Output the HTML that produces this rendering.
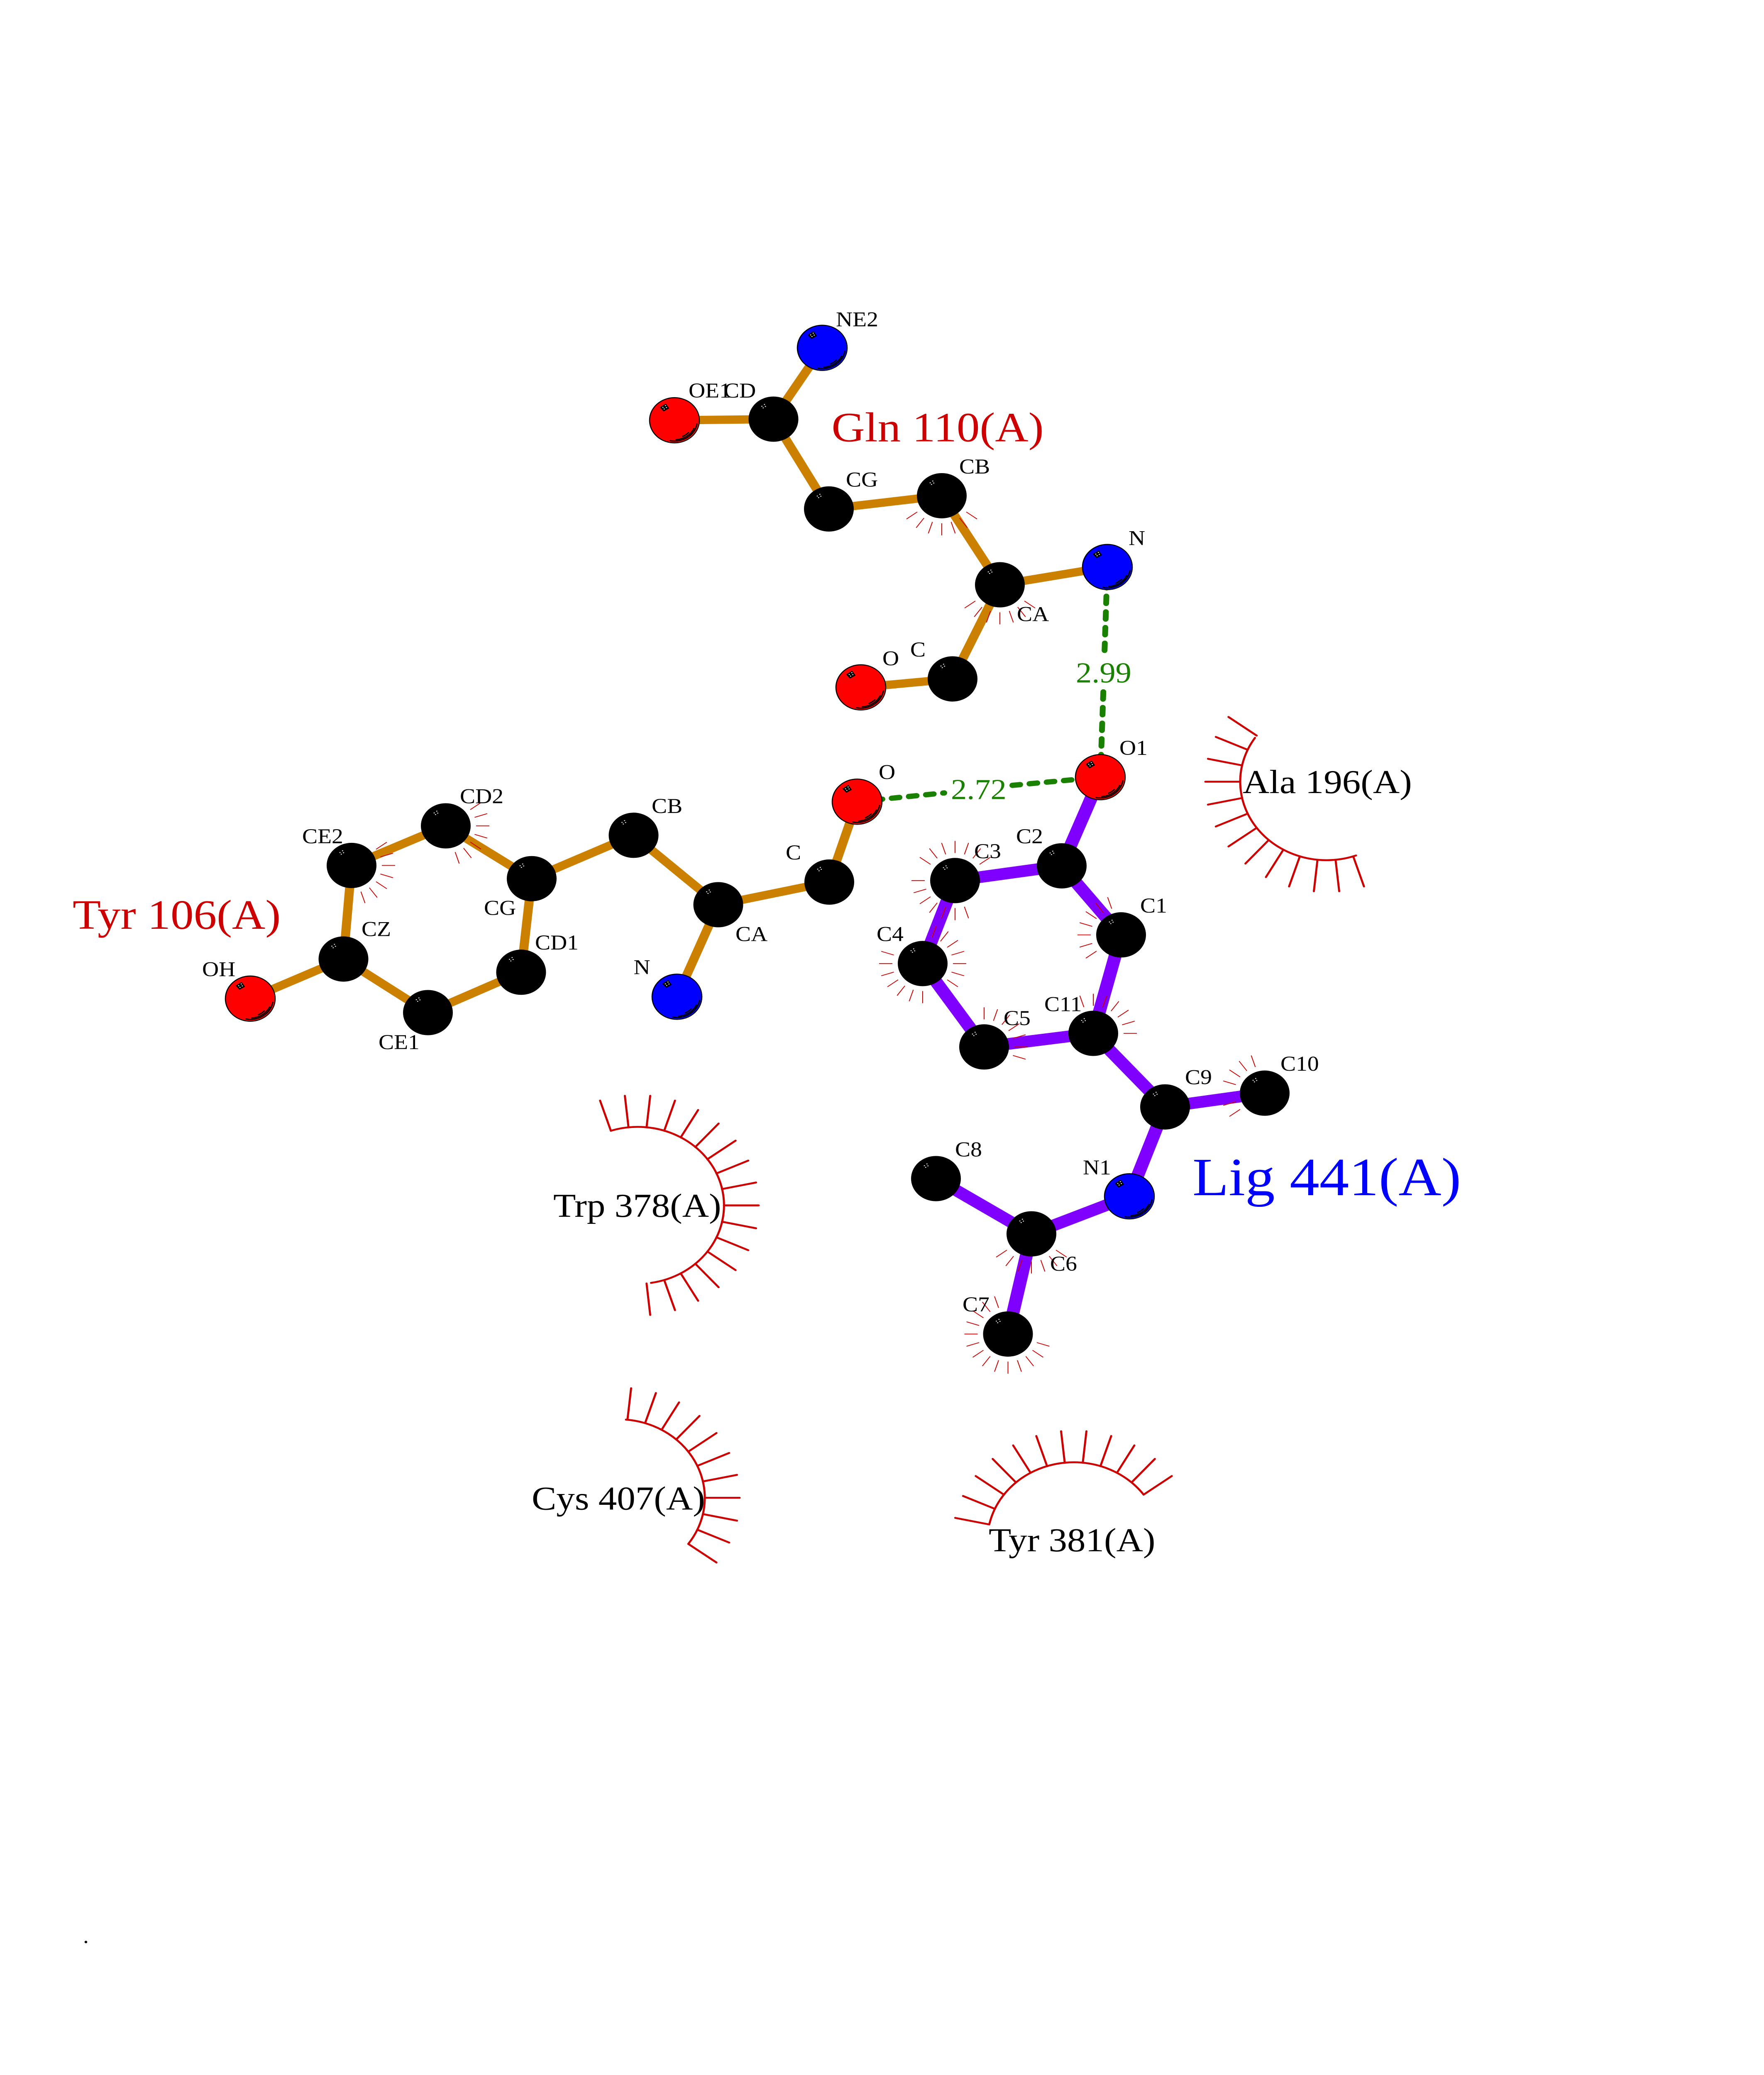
<!DOCTYPE html>
<html>
<head>
<meta charset="utf-8">
<style>
html,body{margin:0;padding:0;background:#fff;width:4250px;height:100vh;overflow:hidden}
svg{display:block;overflow:hidden;width:4250px;height:100vh}
text{font-family:"Liberation Serif",serif;white-space:pre}
.a{font-size:55.6px;fill:#000}
.r{font-size:89px;fill:#000}
.h{font-size:111.1px;fill:#c00}
.d{font-size:76.5px;fill:#1a8000}
</style>
</head>
<body>
<svg xmlns="http://www.w3.org/2000/svg" viewBox="0 0 4250 5500" preserveAspectRatio="none">
<defs>
<line id="t" x1="73" x2="105" stroke="#c00" stroke-width="2"/>
<line id="b" x1="208" x2="292" stroke="#c00" stroke-width="5" stroke-linecap="round"/>
<g id="w" fill="#fff"><rect x="-29.2" y="-35.3" width="2.6" height="2.2"/><rect x="-23" y="-40" width="2.6" height="2.2"/><rect x="-20.6" y="-34.8" width="2.6" height="2.2"/><rect x="-26" y="-31" width="2.6" height="2.2"/></g>
<g id="k"><circle r="60" fill="#000"/><use href="#w"/></g>
<g id="c"><polygon points="-35.3,-34.3 -21,-44.3 -12.7,-31.7 -26,-23.3" fill="#000"/><use href="#w"/>
<g fill="none" stroke="#000" stroke-width="3" stroke-linecap="round"><path d="M54.2 9.6A55 55 0 0 1 -10.5 54"/><path d="M46.7 21.8A51.5 51.5 0 0 1 3.6 51.4"/><path d="M33.8 32.6A47 47 0 0 1 19.9 42.6"/></g></g>
</defs>

<!-- bonds -->
<g stroke="#cc8000" stroke-width="22" fill="none">
<line x1="1981" y1="922" x2="1863.5" y2="1111"/>
<line x1="1625" y1="1114" x2="1863.5" y2="1111"/>
<line x1="1863.5" y1="1111" x2="1997" y2="1349"/>
<line x1="1997" y1="1349" x2="2269" y2="1314"/>
<line x1="2269" y1="1314" x2="2409" y2="1550"/>
<line x1="2409" y1="1550" x2="2668" y2="1503"/>
<line x1="2409" y1="1550" x2="2295" y2="1799.5"/>
<line x1="2295" y1="1799.5" x2="2074" y2="1822"/>
<line x1="603" y1="2647" x2="827.5" y2="2542"/>
<line x1="827.5" y1="2542" x2="847" y2="2294"/>
<line x1="847" y1="2294" x2="1074" y2="2189"/>
<line x1="1074" y1="2189" x2="1281" y2="2329"/>
<line x1="1281" y1="2329" x2="1526.5" y2="2214"/>
<line x1="1526.5" y1="2214" x2="1730.5" y2="2398"/>
<line x1="1730.5" y1="2398" x2="1998" y2="2338"/>
<line x1="1998" y1="2338" x2="2065" y2="2125"/>
<line x1="1730.5" y1="2398" x2="1631" y2="2642"/>
<line x1="1281" y1="2329" x2="1255.5" y2="2577"/>
<line x1="1255.5" y1="2577" x2="1031" y2="2684"/>
<line x1="1031" y1="2684" x2="827.5" y2="2542"/>
</g>
<g stroke="#8000ff" stroke-width="31" fill="none">
<line x1="2651" y1="2060" x2="2558" y2="2295"/>
<line x1="2558" y1="2295" x2="2301" y2="2334"/>
<line x1="2301" y1="2334" x2="2223" y2="2554"/>
<line x1="2223" y1="2554" x2="2371" y2="2775"/>
<line x1="2371" y1="2775" x2="2634" y2="2739"/>
<line x1="2634" y1="2739" x2="2701" y2="2478"/>
<line x1="2701" y1="2478" x2="2558" y2="2295"/>
<line x1="2634" y1="2739" x2="2807" y2="2934"/>
<line x1="2807" y1="2934" x2="3047" y2="2897.5"/>
<line x1="2807" y1="2934" x2="2721" y2="3171"/>
<line x1="2721" y1="3171" x2="2485" y2="3270.5"/>
<line x1="2485" y1="3270.5" x2="2255" y2="3124"/>
<line x1="2485" y1="3270.5" x2="2428.5" y2="3536"/>
</g>

<!-- hydrogen bonds -->
<g stroke="#1a8000" stroke-width="14" stroke-linecap="round" stroke-dasharray="19 22.5" fill="none">
<line x1="2107" y1="2120.3" x2="2275" y2="2101.7"/>
<line x1="2439" y1="2081.6" x2="2651" y2="2060"/>
<line x1="2666.9" y1="1539" x2="2661.2" y2="1725"/>
<line x1="2658.2" y1="1834" x2="2651" y2="2060"/>
</g>

<!-- small contact ticks -->
<g transform="translate(2269 1314)"><use href="#t" transform="rotate(36)"/><use href="#t" transform="rotate(54)"/><use href="#t" transform="rotate(72)"/><use href="#t" transform="rotate(90)"/><use href="#t" transform="rotate(108)"/><use href="#t" transform="rotate(126)"/><use href="#t" transform="rotate(144)"/></g>
<g transform="translate(2409 1550)"><use href="#t" transform="rotate(36)"/><use href="#t" transform="rotate(54)"/><use href="#t" transform="rotate(72)"/><use href="#t" transform="rotate(90)"/><use href="#t" transform="rotate(108)"/><use href="#t" transform="rotate(126)"/><use href="#t" transform="rotate(144)"/></g>
<g transform="translate(2485 3270.5)"><use href="#t" transform="rotate(36)"/><use href="#t" transform="rotate(54)"/><use href="#t" transform="rotate(72)"/><use href="#t" transform="rotate(90)"/><use href="#t" transform="rotate(108)"/><use href="#t" transform="rotate(126)"/><use href="#t" transform="rotate(144)"/></g>
<g transform="translate(2301 2334)"><use href="#t" transform="rotate(72)"/><use href="#t" transform="rotate(90)"/><use href="#t" transform="rotate(108)"/><use href="#t" transform="rotate(126)"/><use href="#t" transform="rotate(144)"/><use href="#t" transform="rotate(162)"/><use href="#t" transform="rotate(180)"/><use href="#t" transform="rotate(216)"/><use href="#t" transform="rotate(234)"/><use href="#t" transform="rotate(252)"/><use href="#t" transform="rotate(270)"/><use href="#t" transform="rotate(288)"/><use href="#t" transform="rotate(306)"/><use href="#t" transform="rotate(324)"/></g>
<g transform="translate(2223 2554)"><use href="#t" transform="rotate(288)"/><use href="#t" transform="rotate(306)"/><use href="#t" transform="rotate(324)"/><use href="#t" transform="rotate(342)"/><use href="#t" transform="rotate(0)"/><use href="#t" transform="rotate(18)"/><use href="#t" transform="rotate(36)"/><use href="#t" transform="rotate(90)"/><use href="#t" transform="rotate(108)"/><use href="#t" transform="rotate(126)"/><use href="#t" transform="rotate(144)"/><use href="#t" transform="rotate(162)"/><use href="#t" transform="rotate(180)"/><use href="#t" transform="rotate(198)"/></g>
<g transform="translate(2701 2478)"><use href="#t" transform="rotate(144)"/><use href="#t" transform="rotate(162)"/><use href="#t" transform="rotate(180)"/><use href="#t" transform="rotate(198)"/><use href="#t" transform="rotate(216)"/><use href="#t" transform="rotate(234)"/><use href="#t" transform="rotate(252)"/></g>
<g transform="translate(2634 2739)"><use href="#t" transform="rotate(252)"/><use href="#t" transform="rotate(270)"/><use href="#t" transform="rotate(288)"/><use href="#t" transform="rotate(306)"/><use href="#t" transform="rotate(324)"/><use href="#t" transform="rotate(342)"/><use href="#t" transform="rotate(0)"/></g>
<g transform="translate(2371 2775)"><use href="#t" transform="rotate(270)"/><use href="#t" transform="rotate(288)"/><use href="#t" transform="rotate(306)"/><use href="#t" transform="rotate(324)"/><use href="#t" transform="rotate(342)"/><use href="#t" transform="rotate(0)"/><use href="#t" transform="rotate(18)"/></g>
<g transform="translate(3047 2897.5)"><use href="#t" transform="rotate(144)"/><use href="#t" transform="rotate(162)"/><use href="#t" transform="rotate(198)"/><use href="#t" transform="rotate(216)"/><use href="#t" transform="rotate(234)"/><use href="#t" transform="rotate(252)"/></g>
<g transform="translate(2428.5 3536)"><use href="#t" transform="rotate(18)"/><use href="#t" transform="rotate(36)"/><use href="#t" transform="rotate(54)"/><use href="#t" transform="rotate(72)"/><use href="#t" transform="rotate(90)"/><use href="#t" transform="rotate(108)"/><use href="#t" transform="rotate(126)"/><use href="#t" transform="rotate(144)"/><use href="#t" transform="rotate(162)"/><use href="#t" transform="rotate(180)"/><use href="#t" transform="rotate(198)"/><use href="#t" transform="rotate(216)"/><use href="#t" transform="rotate(234)"/><use href="#t" transform="rotate(252)"/></g>
<g transform="translate(1074 2189)"><use href="#t" transform="rotate(324)"/><use href="#t" transform="rotate(342)"/><use href="#t" transform="rotate(0)"/><use href="#t" transform="rotate(18)"/><use href="#t" transform="rotate(36)"/><use href="#t" transform="rotate(54)"/><use href="#t" transform="rotate(72)"/></g>
<g transform="translate(847 2294)"><use href="#t" transform="rotate(324)"/><use href="#t" transform="rotate(342)"/><use href="#t" transform="rotate(0)"/><use href="#t" transform="rotate(18)"/><use href="#t" transform="rotate(36)"/><use href="#t" transform="rotate(54)"/><use href="#t" transform="rotate(72)"/></g>

<!-- hydrophobic residue arcs -->
<g fill="none" stroke="#c00" stroke-width="5" stroke-linecap="round">
<path d="M3267.1 2267.5A208 208 0 0 1 3023.6 1955.7"/>
<path d="M1471.7 2997.2A208 208 0 1 1 1568.5 3400.4"/>
<path d="M1508.1 3762.8A208 208 0 0 1 1658.3 4092.3"/>
<path d="M2384.3 4037.2A208 208 0 0 1 2755.3 3961.7"/>
</g>
<g transform="translate(3196 2072)"><use href="#b" transform="rotate(72)"/><use href="#b" transform="rotate(84)"/><use href="#b" transform="rotate(96)"/><use href="#b" transform="rotate(108)"/><use href="#b" transform="rotate(120)"/><use href="#b" transform="rotate(132)"/><use href="#b" transform="rotate(144)"/><use href="#b" transform="rotate(156)"/><use href="#b" transform="rotate(168)"/><use href="#b" transform="rotate(180)"/><use href="#b" transform="rotate(192)"/><use href="#b" transform="rotate(204)"/><use href="#b" transform="rotate(216)"/></g>
<g transform="translate(1536 3195)"><use href="#b" transform="rotate(-108)"/><use href="#b" transform="rotate(-96)"/><use href="#b" transform="rotate(-84)"/><use href="#b" transform="rotate(-72)"/><use href="#b" transform="rotate(-60)"/><use href="#b" transform="rotate(-48)"/><use href="#b" transform="rotate(-36)"/><use href="#b" transform="rotate(-24)"/><use href="#b" transform="rotate(-12)"/><use href="#b" transform="rotate(0)"/><use href="#b" transform="rotate(12)"/><use href="#b" transform="rotate(24)"/><use href="#b" transform="rotate(36)"/><use href="#b" transform="rotate(48)"/><use href="#b" transform="rotate(60)"/><use href="#b" transform="rotate(72)"/><use href="#b" transform="rotate(84)"/></g>
<g transform="translate(1490 3970)"><use href="#b" transform="rotate(-84)"/><use href="#b" transform="rotate(-72)"/><use href="#b" transform="rotate(-60)"/><use href="#b" transform="rotate(-48)"/><use href="#b" transform="rotate(-36)"/><use href="#b" transform="rotate(-24)"/><use href="#b" transform="rotate(-12)"/><use href="#b" transform="rotate(0)"/><use href="#b" transform="rotate(12)"/><use href="#b" transform="rotate(24)"/><use href="#b" transform="rotate(36)"/></g>
<g transform="translate(2587 4084)"><use href="#b" transform="rotate(-168)"/><use href="#b" transform="rotate(-156)"/><use href="#b" transform="rotate(-144)"/><use href="#b" transform="rotate(-132)"/><use href="#b" transform="rotate(-120)"/><use href="#b" transform="rotate(-108)"/><use href="#b" transform="rotate(-96)"/><use href="#b" transform="rotate(-84)"/><use href="#b" transform="rotate(-72)"/><use href="#b" transform="rotate(-60)"/><use href="#b" transform="rotate(-48)"/><use href="#b" transform="rotate(-36)"/></g>

<!-- atoms -->
<use href="#k" transform="translate(1863.5 1111)"/>
<use href="#k" transform="translate(1997 1349)"/>
<use href="#k" transform="translate(2269 1314)"/>
<use href="#k" transform="translate(2409 1550)"/>
<use href="#k" transform="translate(2295 1799.5)"/>
<use href="#k" transform="translate(1074 2189)"/>
<use href="#k" transform="translate(847 2294)"/>
<use href="#k" transform="translate(1526.5 2214)"/>
<use href="#k" transform="translate(1281 2329)"/>
<use href="#k" transform="translate(1730.5 2398)"/>
<use href="#k" transform="translate(827.5 2542)"/>
<use href="#k" transform="translate(1031 2684)"/>
<use href="#k" transform="translate(1255.5 2577)"/>
<use href="#k" transform="translate(1998 2338)"/>
<use href="#k" transform="translate(2558 2295)"/>
<use href="#k" transform="translate(2301 2334)"/>
<use href="#k" transform="translate(2701 2478)"/>
<use href="#k" transform="translate(2223 2554)"/>
<use href="#k" transform="translate(2371 2775)"/>
<use href="#k" transform="translate(2634 2739)"/>
<use href="#k" transform="translate(2807 2934)"/>
<use href="#k" transform="translate(3047 2897.5)"/>
<use href="#k" transform="translate(2255 3124)"/>
<use href="#k" transform="translate(2485 3270.5)"/>
<use href="#k" transform="translate(2428.5 3536)"/>
<g transform="translate(1981 922)"><circle r="60" fill="#00f" stroke="#000" stroke-width="2.5"/><use href="#c"/></g>
<g transform="translate(2668 1503)"><circle r="60" fill="#00f" stroke="#000" stroke-width="2.5"/><use href="#c"/></g>
<g transform="translate(1631 2642)"><circle r="60" fill="#00f" stroke="#000" stroke-width="2.5"/><use href="#c"/></g>
<g transform="translate(2721 3171)"><circle r="60" fill="#00f" stroke="#000" stroke-width="2.5"/><use href="#c"/></g>
<g transform="translate(1625 1114)"><circle r="60" fill="#f00" stroke="#000" stroke-width="2.5"/><use href="#c"/></g>
<g transform="translate(2074 1822)"><circle r="60" fill="#f00" stroke="#000" stroke-width="2.5"/><use href="#c"/></g>
<g transform="translate(603 2647)"><circle r="60" fill="#f00" stroke="#000" stroke-width="2.5"/><use href="#c"/></g>
<g transform="translate(2065 2125)"><circle r="60" fill="#f00" stroke="#000" stroke-width="2.5"/><use href="#c"/></g>
<g transform="translate(2651 2060)"><circle r="60" fill="#f00" stroke="#000" stroke-width="2.5"/><use href="#c"/></g>

<!-- atom labels -->
<text class="a" x="2014" y="865">NE2</text>
<text class="a" x="1659" y="1054">OE1</text>
<text class="a" x="1744" y="1054">CD</text>
<text class="a" x="2038" y="1290">CG</text>
<text class="a" x="2311" y="1255">CB</text>
<text class="a" x="2450" y="1646">CA</text>
<text class="a" x="2193" y="1740">C</text>
<text class="a" x="2126" y="1764">O</text>
<text class="a" x="2719" y="1445">N</text>
<text class="a" x="2697" y="2001">O1</text>
<text class="a" x="2117" y="2065">O</text>
<text class="a" x="2448" y="2235">C2</text>
<text class="a" x="2347" y="2275">C3</text>
<text class="a" x="2747" y="2419">C1</text>
<text class="a" x="2112" y="2494">C4</text>
<text class="a" x="2418" y="2717">C5</text>
<text class="a" x="2516" y="2680">C11</text>
<text class="a" x="2855" y="2874">C9</text>
<text class="a" x="3085" y="2838">C10</text>
<text class="a" x="2301" y="3065">C8</text>
<text class="a" x="2609" y="3113">N1</text>
<text class="a" x="2530" y="3368">C6</text>
<text class="a" x="2319" y="3476">C7</text>
<text class="a" x="1108" y="2129">CD2</text>
<text class="a" x="728" y="2235">CE2</text>
<text class="a" x="1570" y="2155">CB</text>
<text class="a" x="1166" y="2425">CG</text>
<text class="a" x="871" y="2481">CZ</text>
<text class="a" x="1289" y="2517">CD1</text>
<text class="a" x="912" y="2781">CE1</text>
<text class="a" x="1526.5" y="2582">N</text>
<text class="a" x="487" y="2588">OH</text>
<text class="a" x="1772" y="2494">CA</text>
<text class="a" x="1893" y="2278">C</text>
<text class="a" x="200" y="5150">.</text>

<!-- distances -->
<text class="d" x="2592" y="1809">2.99</text>
<text class="d" x="2291" y="2118">2.72</text>

<!-- residue labels -->
<text class="h" x="2003.5" y="1170">Gln 110(A)</text>
<text class="h" x="175" y="2462">Tyr 106(A)</text>
<text x="2873" y="3168" style="font-size:143px;fill:#00f">Lig 441(A)</text>
<text class="r" x="2994" y="2102">Ala 196(A)</text>
<text class="r" x="1333" y="3225">Trp 378(A)</text>
<text class="r" x="1281" y="4001">Cys 407(A)</text>
<text class="r" x="2382" y="4112">Tyr 381(A)</text>
</svg>
</body>
</html>
